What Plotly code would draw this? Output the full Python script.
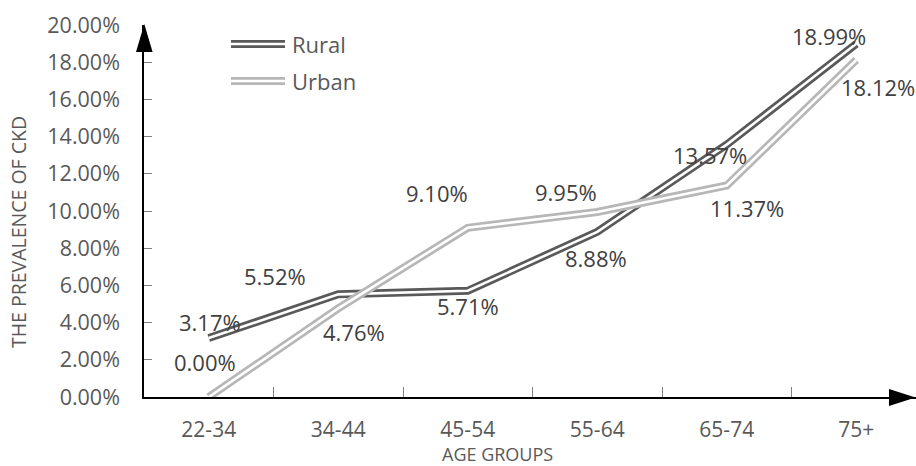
import plotly.graph_objects as go

categories = ["22-34", "34-44", "45-54", "55-64", "65-74", "75+"]
rural = [0.0317, 0.0552, 0.0571, 0.0888, 0.1357, 0.1899]
urban = [0.0000, 0.0476, 0.0910, 0.0995, 0.1137, 0.1812]
y_ticks = [0.00, 0.02, 0.04, 0.06, 0.08, 0.10, 0.12, 0.14, 0.16, 0.18, 0.20]

# label offsets in pixels (style)
rural_off = [(1, -16), (-63, -18), (0, 15), (-1, 26), (-17, 10), (-27, -8)]
urban_off = [(-4, -35), (16, 24), (-31, -35), (-31, -20), (20, 22), (22, 27)]

RURAL_C = "#595959"
URBAN_C = "#b7b7b7"
TXT = "#595959"
FONT = "Open Sans"

W, H = 916, 466
L, R, T, B = 144, 0, 25, 69
PW, PH = W - L - R, H - T - B
SPACING = 129.5

def px(x):
    return (x - L) / PW

def py(y):
    return (H - B - y) / PH

fig = go.Figure()
for name, vals, col in [("Rural", rural, RURAL_C), ("Urban", urban, URBAN_C)]:
    fig.add_trace(go.Scatter(x=categories, y=vals, mode="lines",
                             line=dict(color=col, width=8), showlegend=False,
                             hoverinfo="skip"))
    fig.add_trace(go.Scatter(x=categories, y=vals, mode="lines",
                             line=dict(color="white", width=2.6), showlegend=False,
                             name=name))

annotations = []
for vals, offs in [(rural, rural_off), (urban, urban_off)]:
    for c, v, (dx, dy) in zip(categories, vals, offs):
        annotations.append(dict(x=c, y=v, xref="x", yref="y", text=f"{v*100:.2f}%",
                                showarrow=False, xshift=dx, yshift=-dy,
                                xanchor="center", yanchor="middle",
                                font=dict(family=FONT, size=22, color="#404040")))

# axis titles
annotations.append(dict(x=px(19), y=py(232), xref="paper", yref="paper",
                        xanchor="center", yanchor="middle",
                        text="THE PREVALENCE OF CKD", textangle=-90, showarrow=False,
                        font=dict(family=FONT, size=19.5, color=TXT)))
annotations.append(dict(x=px(497), y=py(454), xref="paper", yref="paper",
                        xanchor="center", yanchor="middle",
                        text="AGE GROUPS", showarrow=False,
                        font=dict(family=FONT, size=18, color=TXT)))

# legend
shapes = []
for label, col, ly in [("Rural", RURAL_C, 44), ("Urban", URBAN_C, 81)]:
    shapes.append(dict(type="line", xref="paper", yref="paper",
                       x0=px(231), x1=px(285), y0=py(ly), y1=py(ly),
                       line=dict(color=col, width=8)))
    shapes.append(dict(type="line", xref="paper", yref="paper",
                       x0=px(229), x1=px(287), y0=py(ly), y1=py(ly),
                       line=dict(color="white", width=2.6)))
    annotations.append(dict(x=px(290), y=py(ly), xref="paper", yref="paper",
                            text=label, showarrow=False, xanchor="left", yanchor="middle",
                            font=dict(family=FONT, size=22, color=TXT)))

# axis arrows
shapes.append(dict(type="path", xref="paper", yref="paper",
                   path=f"M {px(136)} {py(52)} L {px(144.3)} {py(24)} L {px(152.6)} {py(52)} Z",
                   fillcolor="black", line=dict(color="black", width=0)))
shapes.append(dict(type="path", xref="paper", yref="paper",
                   path=f"M {px(889)} {py(389)} L {px(915.5)} {py(397.5)} L {px(889)} {py(406)} Z",
                   fillcolor="black", line=dict(color="black", width=0)))

fig.update_layout(
    width=W, height=H,
    margin=dict(l=L, r=R, t=T, b=B, pad=0),
    paper_bgcolor="white", plot_bgcolor="white",
    showlegend=False,
    annotations=annotations, shapes=shapes,
    xaxis=dict(type="category", categoryorder="array", categoryarray=categories,
               range=[-0.5, -0.5 + PW / SPACING],
               showline=True, linecolor="black", linewidth=1.5,
               ticks="inside", ticklen=10, tickcolor="#808080", tickwidth=1,
               tickson="boundaries", showgrid=False, zeroline=False,
               tickfont=dict(family=FONT, size=21, color=TXT),
               ticklabelstandoff=13),
    yaxis=dict(range=[0, 0.20], tickvals=y_ticks, tickformat=".2%",
               showline=True, linecolor="black", linewidth=1.5,
               ticks="inside", ticklen=8, tickcolor="#808080", tickwidth=1,
               showgrid=False, zeroline=False,
               tickfont=dict(family=FONT, size=21.5, color=TXT),
               ticklabelstandoff=18),
)

fig.write_html("out.html")
